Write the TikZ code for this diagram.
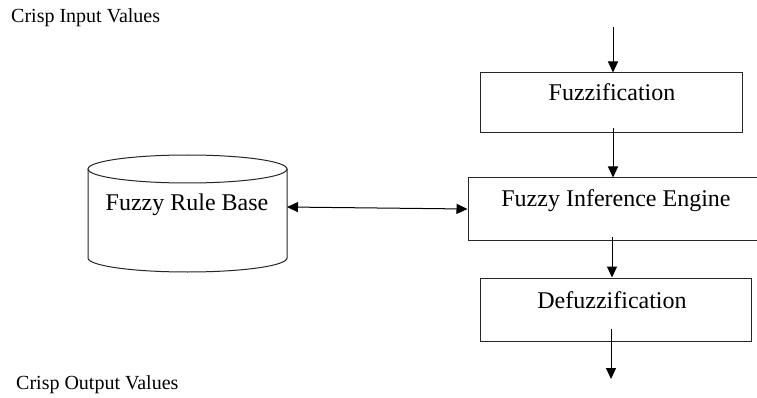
\documentclass[tikz,border=0pt]{standalone}
\usepackage{fontspec}
\setmainfont{Liberation Serif}
\usetikzlibrary{arrows.meta}
\tikzset{
  box/.style={draw=black!85, line width=1pt, rectangle, inner sep=0pt},
  boxtext/.style={font=\fontsize{24}{26}\selectfont, anchor=base, inner sep=0pt},
  smalltext/.style={font=\fontsize{20}{22}\selectfont, anchor=base west, inner sep=0pt},
  arr/.style={line width=1pt, -{Triangle[length=11pt,width=10pt]}},
  darr/.style={line width=1pt, {Triangle[length=11pt,width=10pt]}-{Triangle[length=11pt,width=10pt]}}
}
\begin{document}
\begin{tikzpicture}[x=1pt,y=-1pt]
\useasboundingbox[fill=white] (0,0) rectangle (757,398);
% labels
\node[smalltext] (cin) at (11,23) {Crisp Input Values};
\node[smalltext] (cout) at (16,389) {Crisp Output Values};
% boxes
\node[box, minimum width=262pt, minimum height=60pt] (fuzz) at (611,103) {};
\node[boxtext] (fuzzt) at (612,101) {Fuzzification};
\node[box, minimum width=292pt, minimum height=62pt] (eng) at (614,209) {};
\node[boxtext] (engt) at (616,207) {Fuzzy Inference Engine};
\node[box, minimum width=271pt, minimum height=63pt] (defz) at (615.5,309.5) {};
\node[boxtext] (defzt) at (612,308) {Defuzzification};
% cylinder (rule base)
\node[minimum width=199pt, minimum height=117pt, inner sep=0pt] (rb) at (187.5,213.5) {};
\draw[line width=1pt, draw=black!85] (187.5,169) ellipse [x radius=99.5, y radius=14];
\draw[line width=1pt, draw=black!85] (88,169) -- (88,258) arc[start angle=180, end angle=360, x radius=99.5, y radius=-14] -- (287,169);
\node[boxtext] (rbt) at (187,211) {Fuzzy Rule Base};
\coordinate (rbE) at (287,207);
% connectors
\coordinate (inTop) at (613,27);
\coordinate (outBot) at (611,379);
\draw[arr] (inTop) -- (inTop |- fuzz.north);
\draw[arr] ([yshift=5pt]fuzz.south -| inTop) -- (eng.north -| inTop);
\draw[arr] ([yshift=4pt]eng.south -| 612,0) -- (defz.north -| 612,0);
\draw[arr] ([yshift=13pt]defz.south -| outBot) -- (outBot);
\draw[darr] (rbE) -- (eng.west);
\end{tikzpicture}
\end{document}
